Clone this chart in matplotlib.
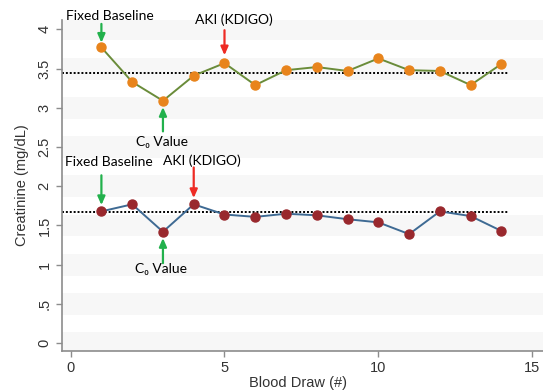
import matplotlib

matplotlib.use("Agg")
import matplotlib.pyplot as plt

# data
draws = list(range(1, 15))
creat_high = [3.77, 3.33, 3.09, 3.41, 3.57, 3.29, 3.48, 3.52, 3.47, 3.63, 3.48, 3.47, 3.29, 3.56]
creat_low = [1.68, 1.77, 1.42, 1.77, 1.64, 1.61, 1.65, 1.63, 1.58, 1.54, 1.39, 1.68, 1.62, 1.43]
baseline_high = 3.45
baseline_low = 1.67
y_ticks = [0, 0.5, 1, 1.5, 2, 2.5, 3, 3.5, 4]
y_tick_labels = ['0', '.5', '1', '1.5', '2', '2.5', '3', '3.5', '4']
x_ticks = [0, 5, 10, 15]

ann_font = ['Lato', 'DejaVu Sans']
green = '#22b14c'
red = '#ee2b24'

fig = plt.figure(figsize=(5.43, 3.92), dpi=100)
ax = fig.add_axes([0.1142, 0.1046, 0.8858, 0.8444])
ax.set_xlim(-0.28, 15.35)
ax.set_ylim(-0.10, 4.12)

# very faint stripes behind the plot
for t in y_ticks:
    ax.axhspan(t - 0.14, t + 0.14, color='#f7f7f7', lw=0, zorder=0)

ax.hlines(baseline_high, -0.28, 14.23, colors='black', linestyles=(0, (1, 1)), lw=1.4, zorder=2)
ax.hlines(baseline_low, -0.28, 14.23, colors='black', linestyles=(0, (1, 1)), lw=1.4, zorder=2)

ax.plot(draws, creat_high, color='#6a8c3a', lw=1.4, marker='o', ms=6.5,
        mfc='#e8841c', mec='#e8841c', zorder=3)
ax.plot(draws, creat_low, color='#3e6a93', lw=1.4, marker='o', ms=6.5,
        mfc='#99282d', mec='#99282d', zorder=3)


def arrow(x, y_from, y_to, color):
    ax.annotate('', xy=(x, y_to), xytext=(x, y_from), annotation_clip=False,
                arrowprops=dict(arrowstyle='-|>,head_length=0.5,head_width=0.22',
                                color=color, lw=1.6, shrinkA=0, shrinkB=0))


# upper series labels
ax.text(1.26, 4.17, 'Fixed Baseline', ha='center', va='center', fontsize=10, family=ann_font)
arrow(1, 4.07, 3.83, green)
ax.text(5.3, 4.12, 'AKI (KDIGO)', ha='center', va='center', fontsize=10, family=ann_font)
arrow(5, 3.99, 3.67, red)
ax.text(2.97, 2.56, 'C₀ Value', ha='center', va='center', fontsize=10, family=ann_font)
arrow(3, 2.70, 3.01, green)

# lower series labels
ax.text(1.23, 2.31, 'Fixed Baseline', ha='center', va='center', fontsize=10, family=ann_font)
arrow(1, 2.14, 1.76, green)
ax.text(4.26, 2.33, 'AKI (KDIGO)', ha='center', va='center', fontsize=10, family=ann_font)
arrow(4, 2.24, 1.85, red)
ax.text(2.93, 0.94, 'C₀ Value', ha='center', va='center', fontsize=10, family=ann_font)
arrow(3, 1.02, 1.34, green)

for side in ['top', 'right']:
    ax.spines[side].set_visible(False)
for side in ['left', 'bottom']:
    ax.spines[side].set_color('#8c8c8c')
    ax.spines[side].set_linewidth(1.2)

ax.set_yticks(y_ticks)
ax.set_yticklabels(y_tick_labels, rotation=90, va='center')
ax.set_xticks(x_ticks)
ax.tick_params(colors='#8c8c8c', labelcolor='#333333', length=4, width=1, labelsize=10.5)
for lab in ax.get_xticklabels() + ax.get_yticklabels():
    lab.set_family('Liberation Sans')

ax.set_ylabel('Creatinine (mg/dL)', fontsize=10.5, family='Liberation Sans', color='#333333', labelpad=6)
ax.set_xlabel('Blood Draw (#)', fontsize=10.5, family='Liberation Sans', color='#333333')
ax.xaxis.set_label_coords(0.49, -0.075)

fig.savefig('out.png', dpi=100)
